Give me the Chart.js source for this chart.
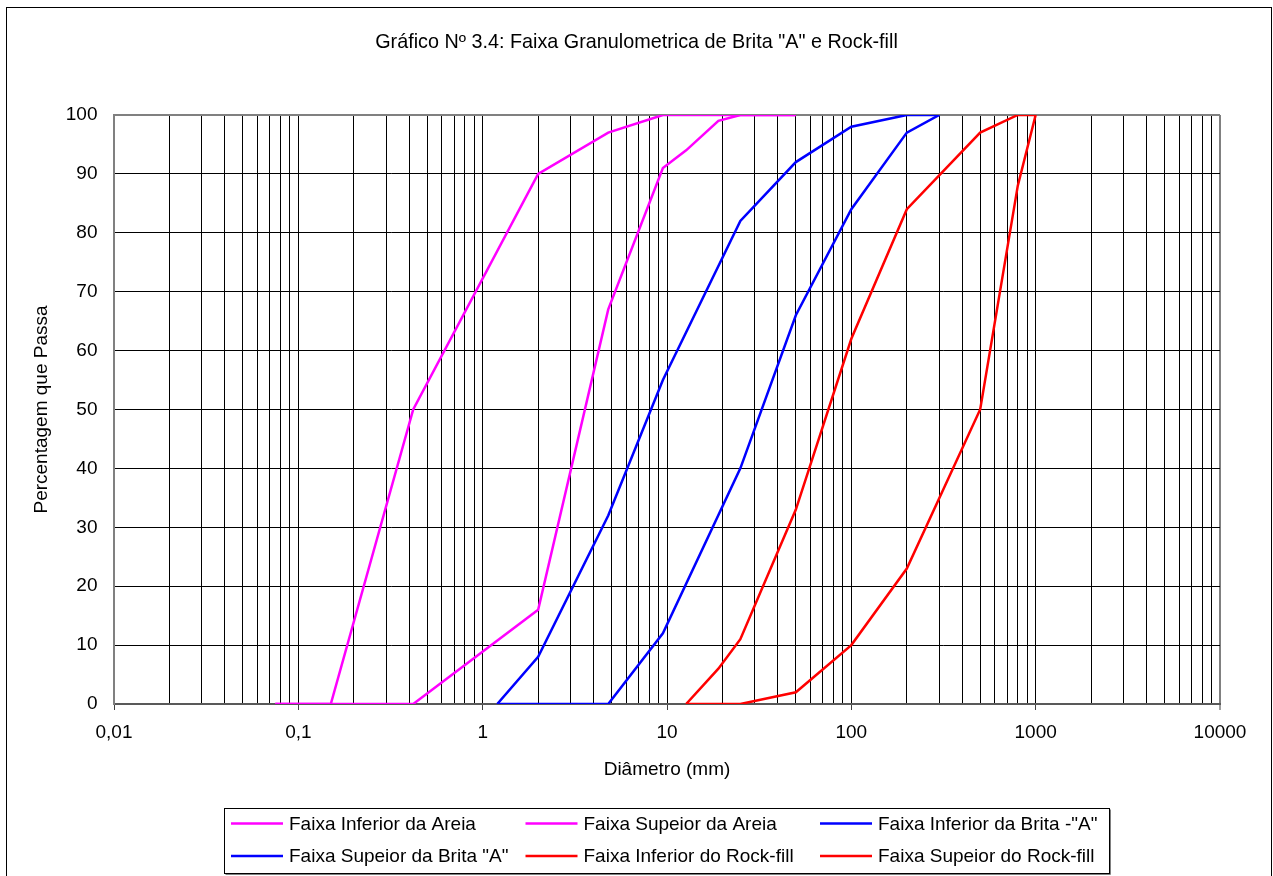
<!DOCTYPE html>
<html>
<head>
<meta charset="utf-8">
<script src="https://cdn.jsdelivr.net/npm/chart.js@4.4.1/dist/chart.umd.min.js"></script>
<style>
html,body{margin:0;padding:0;background:#fff;}
#wrap{width:1273px;height:876px;position:relative;}
</style>
</head>
<body>
<div id="wrap"><canvas id="c"></canvas></div>
<script>
// ---- data ----
const titleText = 'Gráfico Nº 3.4: Faixa Granulometrica de Brita "A" e Rock-fill';
const xTitle = 'Diâmetro (mm)';
const yTitle = 'Percentagem que Passa';

const seriesLabels = [
  'Faixa Inferior da Areia',
  'Faixa Supeior da Areia',
  'Faixa Inferior da Brita -"A"',
  'Faixa Supeior da Brita "A"',
  'Faixa Inferior do Rock-fill',
  'Faixa Supeior do Rock-fill'
];
const seriesColors = ['#FF00FF', '#FF00FF', '#0000FF', '#0000FF', '#FF0000', '#FF0000'];

const areiaInfX = [0.075, 0.15, 0.42, 2, 4.8, 9.5, 12.7, 19, 25, 50];
const areiaInfY = [0, 0, 0, 16, 67, 91, 94, 99, 100, 100];
const areiaSupX = [0.075, 0.15, 0.42, 2, 4.8, 9.5, 50];
const areiaSupY = [0, 0, 50, 90, 97, 100, 100];

const britaInfX = [1.2, 2, 4.8, 9.5, 25, 50, 100, 200, 300];
const britaInfY = [0, 0, 0, 12, 40, 66, 84, 97, 100];
const britaSupX = [1.2, 2, 4.8, 9.5, 25, 50, 100, 200, 300];
const britaSupY = [0, 8, 32, 55, 82, 92, 98, 100, 100];

const rockInfX = [12.7, 25, 50, 100, 200, 500, 800, 1000];
const rockInfY = [0, 0, 2, 10, 23, 50, 88, 100];
const rockSupX = [12.7, 19, 25, 50, 100, 200, 500, 800, 1000];
const rockSupY = [0, 6, 11, 33, 62, 84, 97, 100, 100];

const xMajorTicks = [0.01, 0.1, 1, 10, 100, 1000, 10000];
const xTickLabels = ['0,01', '0,1', '1', '10', '100', '1000', '10000'];
const yTicks = [0, 10, 20, 30, 40, 50, 60, 70, 80, 90, 100];

// ---- build ----
const seriesX = [areiaInfX, areiaSupX, britaInfX, britaSupX, rockInfX, rockSupX];
const seriesY = [areiaInfY, areiaSupY, britaInfY, britaSupY, rockInfY, rockSupY];
const FONT = "'Liberation Sans', Arial, sans-serif";

const datasets = seriesLabels.map((lab, i) => ({
  label: lab,
  data: seriesX[i].map((x, j) => ({x: x, y: seriesY[i][j]})),
  showLine: true,
  borderColor: seriesColors[i],
  backgroundColor: seriesColors[i],
  borderWidth: 2.5,
  pointRadius: 0,
  tension: 0,
  fill: false,
  yAxisID: 'y'
}));

function isMajor(v) {
  return xMajorTicks.some(m => Math.abs(Math.log10(v) - Math.log10(m)) < 1e-6);
}

const bgPlugin = {
  id: 'bg',
  beforeDraw(chart) {
    const c = chart.ctx;
    c.save();
    c.fillStyle = '#fff';
    c.fillRect(0, 0, chart.width, chart.height);
    c.restore();
  },
  afterDraw(chart) {
    const c = chart.ctx;
    c.save();
    // outer frame
    c.strokeStyle = '#000';
    c.lineWidth = 1;
    c.strokeRect(6.5, 7.5, 1265, 880);
    // legend box
    const bx = 224.5, by = 808.5, bw = 885, bh = 65;
    c.strokeStyle = '#808080';
    c.lineWidth = 1;
    c.beginPath();
    c.moveTo(bx + 1, by + bh + 1); c.lineTo(bx + bw + 1, by + bh + 1); c.lineTo(bx + bw + 1, by + 1);
    c.stroke();
    c.strokeStyle = '#000';
    c.strokeRect(bx, by, bw, bh);
    c.font = '19px ' + FONT;
    c.textBaseline = 'middle';
    c.textAlign = 'left';
    chart.data.datasets.forEach((ds, i) => {
      const col = i % 3, row = Math.floor(i / 3);
      const lx = 231 + col * 294.5;
      const ly = row === 0 ? 823.5 : 856;
      c.strokeStyle = ds.borderColor;
      c.lineWidth = 2.5;
      c.beginPath();
      c.moveTo(lx, ly); c.lineTo(lx + 52, ly);
      c.stroke();
      c.fillStyle = '#000';
      c.fillText(ds.label, lx + 58, ly + 1);
    });
    c.restore();
  }
};

new Chart(document.getElementById('c'), {
  type: 'scatter',
  data: {datasets: datasets},
  plugins: [bgPlugin],
  options: {
    responsive: true,
    maintainAspectRatio: false,
    animation: false,
    layout: {padding: {left: 0, right: 0, top: 0, bottom: 94}},
    plugins: {
      legend: {display: false},
      tooltip: {enabled: false},
      title: {
        display: true,
        text: titleText,
        color: '#000',
        font: {family: FONT, size: 19.8, weight: 'normal'},
        padding: {top: 30.6, bottom: 60.6}
      }
    },
    scales: {
      x: {
        type: 'logarithmic',
        position: 'bottom',
        min: 0.01,
        max: 10000,
        afterBuildTicks(scale) {
          const t = [];
          for (let e = -2; e <= 3; e++) {
            for (let m = 1; m <= 9; m++) t.push({value: m * Math.pow(10, e)});
          }
          t.push({value: 10000});
          scale.ticks = t;
        },
        afterFit(scale) { scale.height = 78; },
        ticks: {
          autoSkip: false,
          maxRotation: 0,
          minRotation: 0,
          padding: 11,
          color: '#000',
          font: {family: FONT, size: 19},
          callback(v) {
            for (let i = 0; i < xMajorTicks.length; i++) {
              if (Math.abs(Math.log10(v) - Math.log10(xMajorTicks[i])) < 1e-6) return xTickLabels[i];
            }
            return '';
          }
        },
        grid: {
          drawTicks: true,
          tickLength: 6,
          color: ctx => (ctx.tick && Math.abs(ctx.tick.value - 10000) < 1e-6) ? '#808080' : '#000',
          lineWidth: ctx => (ctx.tick && Math.abs(ctx.tick.value - 10000) < 1e-6) ? 2 : 1,
          tickColor: ctx => (ctx.tick && isMajor(ctx.tick.value)) ? '#404040' : 'rgba(0,0,0,0)',
          tickWidth: 1
        },
        border: {display: true, color: '#595959', width: 2},
        title: {
          display: true,
          text: xTitle,
          color: '#000',
          font: {family: FONT, size: 19},
          padding: {top: 0, bottom: 0.6}
        }
      },
      y: {
        type: 'linear',
        position: 'left',
        min: 0,
        max: 100,
        afterBuildTicks(scale) { scale.ticks = yTicks.map(v => ({value: v})); },
        afterFit(scale) { scale.width = 114; },
        ticks: {
          padding: 16.5,
          color: '#000',
          font: {family: FONT, size: 19}
        },
        grid: {
          drawTicks: false,
          color: ctx => (ctx.tick && ctx.tick.value === 100) ? '#808080' : '#000',
          lineWidth: ctx => (ctx.tick && ctx.tick.value === 100) ? 2 : 1
        },
        border: {display: true, color: '#808080', width: 2},
        title: {
          display: true,
          text: yTitle,
          color: '#000',
          font: {family: FONT, size: 19},
          padding: {top: 30.6, bottom: 0}
        }
      },
      yRight: {
        type: 'linear',
        position: 'right',
        min: 0,
        max: 100,
        afterFit(scale) { scale.width = 53; },
        ticks: {display: false},
        grid: {display: false, drawOnChartArea: false},
        border: {display: false}
      }
    }
  }
});
</script>
</body>
</html>
